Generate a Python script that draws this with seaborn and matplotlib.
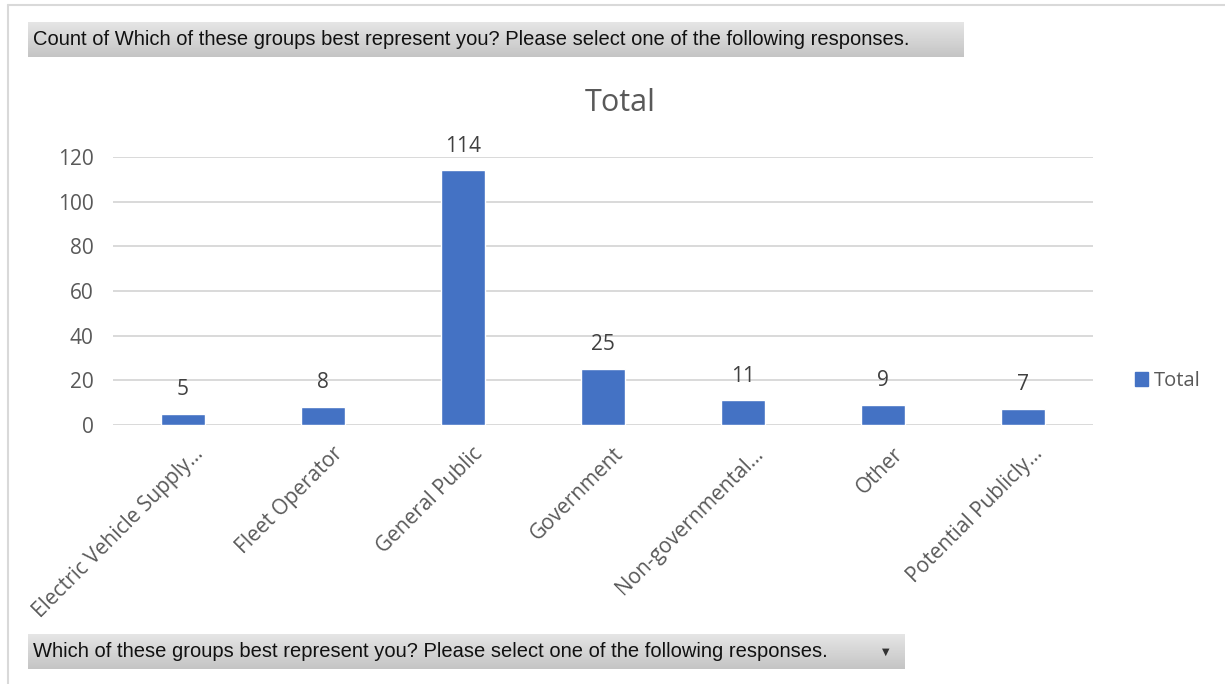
import numpy as np
import matplotlib
matplotlib.use("Agg")
import matplotlib.pyplot as plt
import matplotlib.transforms as mtransforms
import seaborn as sns
from matplotlib.patches import Patch

# data
categories = ["Electric Vehicle Supply...", "Fleet Operator", "General Public", "Government",
              "Non-governmental...", "Other", "Potential Publicly..."]
counts = [5, 8, 114, 25, 11, 9, 7]
series_name = "Total"
header_text = "Count of Which of these groups best represent you? Please select one of the following responses."
filter_text = "Which of these groups best represent you? Please select one of the following responses."

sns.set_theme(style="white")
plt.rcParams['font.family'] = ['Open Sans', 'DejaVu Sans']

W, H = 1225, 684
fig = plt.figure(figsize=(W / 100, H / 100), dpi=100)
fig.patch.set_facecolor("white")

bar_color = "#4472C4"
text_gray = "#595959"

ax = fig.add_axes([113 / W, 1 - 425 / H, 980 / W, 268 / H])
sns.barplot(x=categories, y=counts, color=bar_color, width=0.315, ax=ax, saturation=1)
ax.set_ylim(0, 120)
ax.set_xlim(-0.5, len(categories) - 0.5)
ax.set_yticks(range(0, 121, 20))
ax.yaxis.grid(True, color="#d9d9d9", linewidth=1.4)
ax.set_axisbelow(True)
for s in ax.spines.values():
    s.set_visible(False)
ax.set_xlabel("")
ax.set_ylabel("")
ax.tick_params(axis="y", length=0, pad=14, labelsize=15, labelcolor=text_gray)
ax.tick_params(axis="x", length=0, pad=17, labelsize=15, labelcolor=text_gray)
shift = mtransforms.ScaledTranslation(17 / 100, -2 / 100, fig.dpi_scale_trans)
for lbl in ax.get_xticklabels():
    lbl.set_rotation(45)
    lbl.set_ha("right")
    lbl.set_va("center")
    lbl.set_rotation_mode("anchor")
    lbl.set_transform(lbl.get_transform() + shift)
ax.bar_label(ax.containers[0], padding=10, fontsize=15, color="#404040")

fig.text(620 / W, 1 - 103 / H, "Total", ha="center", va="center", fontsize=22, color=text_gray)

fig.legend(handles=[Patch(color=bar_color, label=series_name)], loc="center left",
           bbox_to_anchor=(1117 / W, 1 - 381 / H), frameon=False, fontsize=14.5,
           handlelength=0.65, handleheight=0.65, handletextpad=0.3, labelcolor=text_gray)


# gray field buttons of the pivot chart
def field_button(x0, y0, x1, y1, text, arrow=False):
    bax = fig.add_axes([x0 / W, 1 - y1 / H, (x1 - x0) / W, (y1 - y0) / H])
    grad = np.linspace(0, 1, 50).reshape(-1, 1)
    bax.imshow(grad, aspect="auto", cmap=matplotlib.colors.LinearSegmentedColormap.from_list(
        "g", ["#e6e6e6", "#c4c4c4"]), extent=[0, 1, 0, 1], origin="upper")
    bax.set_xlim(0, 1)
    bax.set_ylim(0, 1)
    bax.axis("off")
    bax.text(5 / (x1 - x0), 0.5, text, ha="left", va="center", fontsize=14.5,
             color="#111111", family=["Liberation Sans", "DejaVu Sans"])
    if arrow:
        bax.text(1 - 18 / (x1 - x0), 0.5, "▼", ha="center", va="center", fontsize=7,
                 color="#333333", family=["DejaVu Sans"])


field_button(28, 22, 963, 57, header_text)
field_button(28, 634, 904, 669, filter_text, arrow=True)

# outer chart border
fig.add_artist(plt.Line2D([8 / W, 8 / W], [0, 1 - 5 / H], color="#d9d9d9", linewidth=1.5))
fig.add_artist(plt.Line2D([8 / W, 1], [1 - 5 / H, 1 - 5 / H], color="#d9d9d9", linewidth=1.5))

fig.savefig("out.png", dpi=100)
